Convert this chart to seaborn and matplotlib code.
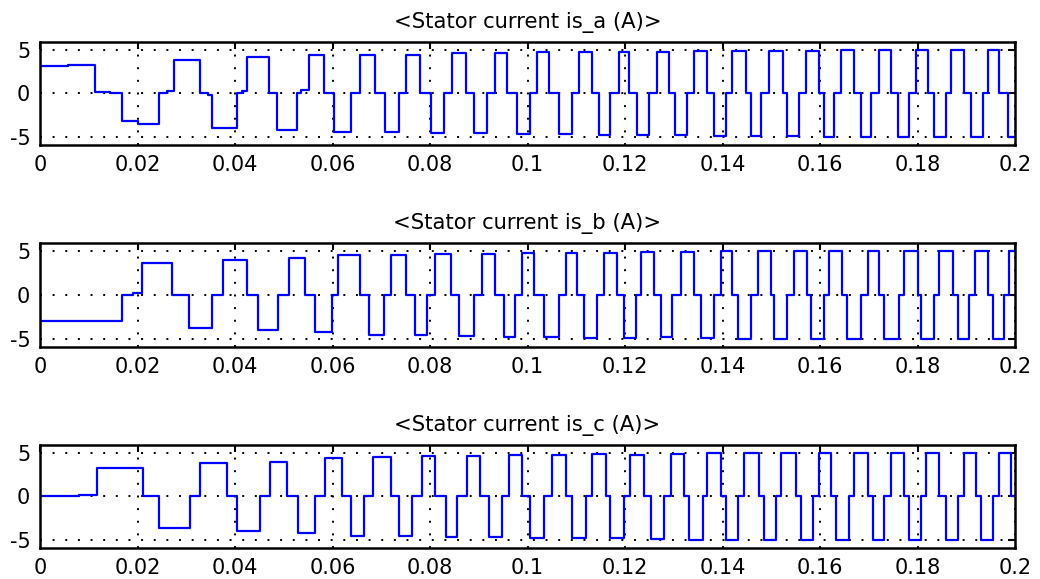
import numpy as np
import pandas as pd
import matplotlib
matplotlib.use("Agg")
import matplotlib.pyplot as plt
import seaborn as sns

# ---- data: switching instants (s) and the current level (A) after each instant ----
ia_t = [0.0, 0.0058, 0.0113, 0.0144, 0.0169, 0.0200, 0.0243, 0.0260, 0.0274, 0.0329, 0.0345, 0.0353,
        0.0404, 0.0414, 0.0424, 0.0469, 0.0486, 0.0527, 0.0535, 0.0551, 0.0582, 0.0602,
        0.0637, 0.0657, 0.0688, 0.0708, 0.0736, 0.0750, 0.0780, 0.0801, 0.0828, 0.0845,
        0.0873, 0.0890, 0.0917, 0.0934, 0.0958, 0.0979, 0.1006, 0.1020, 0.1044, 0.1064,
        0.1092, 0.1105, 0.1133, 0.1146, 0.1170, 0.1188, 0.1208, 0.1225, 0.1249, 0.1266,
        0.1290, 0.1303, 0.1328, 0.1341, 0.1369, 0.1383, 0.1407, 0.1420, 0.1448, 0.1458,
        0.1478, 0.1496, 0.1523, 0.1533, 0.1557, 0.1571, 0.1598, 0.1608, 0.1629, 0.1643,
        0.1670, 0.1684, 0.1704, 0.1721, 0.1745, 0.1759, 0.1783, 0.1797, 0.1821, 0.1834,
        0.1858, 0.1869, 0.1896, 0.1910, 0.1934, 0.1944, 0.1968, 0.1985]
ia_v = [3.1, 3.3, 0.15, 0.0, -3.2, -3.5, 0.1, 0.3, 3.8, 0.0, -0.2, -3.9,
        0.0, 0.3, 4.2, 0.0, -4.2, 0.0, 0.4, 4.4, 0.0, -4.4,
        0.0, 4.4, 0.0, -4.4, 0.0, 4.4, 0.0, -4.5, 0.0, 4.6,
        0.0, -4.5, 0.0, 4.6, 0.0, -4.6, 0.0, 4.7, 0.0, -4.6,
        0.0, 4.8, 0.0, -4.7, 0.0, 4.8, 0.0, -4.8, 0.0, 4.7,
        0.0, -4.8, 0.0, 4.9, 0.0, -4.9, 0.0, 4.9, 0.0, -4.9,
        0.0, 4.9, 0.0, -4.9, 0.0, 4.9, 0.0, -5.0, 0.0, 5.0,
        0.0, -5.0, 0.0, 5.0, 0.0, -5.0, 0.0, 5.0, 0.0, -5.0,
        0.0, 5.0, 0.0, -5.0, 0.0, 5.0, 0.0, -5.0]

ib_t = [0.0, 0.0168, 0.0191, 0.0209, 0.0270, 0.0305, 0.0353, 0.0376, 0.0424, 0.0448,
        0.0489, 0.0510, 0.0544, 0.0565, 0.0599, 0.0612, 0.0657, 0.0674, 0.0705, 0.0719,
        0.0750, 0.0770, 0.0794, 0.0811, 0.0842, 0.0859, 0.0890, 0.0907, 0.0934, 0.0951,
        0.0975, 0.0989, 0.1013, 0.1034, 0.1064, 0.1078, 0.1102, 0.1116, 0.1143, 0.1157,
        0.1184, 0.1198, 0.1222, 0.1232, 0.1259, 0.1273, 0.1297, 0.1314, 0.1341, 0.1355,
        0.1383, 0.1396, 0.1420, 0.1431, 0.1458, 0.1472, 0.1499, 0.1506, 0.1533, 0.1547,
        0.1574, 0.1581, 0.1608, 0.1619, 0.1646, 0.1656, 0.1684, 0.1698, 0.1721, 0.1732,
        0.1762, 0.1773, 0.1800, 0.1807, 0.1834, 0.1845, 0.1872, 0.1882, 0.1906, 0.1917,
        0.1944, 0.1954, 0.1978, 0.1988]
ib_v = [-3.0, 0.0, 0.2, 3.6, 0.0, -3.7, 0.0, 4.0, 0.0, -4.0,
        0.0, 4.2, 0.0, -4.2, 0.0, 4.5, 0.0, -4.5, 0.0, 4.5,
        0.0, -4.5, 0.0, 4.7, 0.0, -4.7, 0.0, 4.7, 0.0, -4.8,
        0.0, 4.8, 0.0, -4.8, 0.0, 4.8, 0.0, -4.9, 0.0, 4.8,
        0.0, -4.9, 0.0, 4.9, 0.0, -4.8, 0.0, 4.9, 0.0, -4.9,
        0.0, 5.0, 0.0, -5.0, 0.0, 5.0, 0.0, -5.0, 0.0, 5.0,
        0.0, -5.0, 0.0, 5.0, 0.0, -5.0, 0.0, 5.0, 0.0, -5.0,
        0.0, 5.0, 0.0, -5.0, 0.0, 5.0, 0.0, -5.0, 0.0, 5.0,
        0.0, -5.0, 0.0, 5.0]

ic_t = [0.0, 0.0079, 0.0116, 0.0212, 0.0243, 0.0308, 0.0329, 0.0383, 0.0404, 0.0452,
        0.0472, 0.0507, 0.0530, 0.0565, 0.0585, 0.0619, 0.0637, 0.0664, 0.0684, 0.0719,
        0.0736, 0.0763, 0.0784, 0.0811, 0.0832, 0.0856, 0.0876, 0.0903, 0.0921, 0.0948,
        0.0962, 0.0989, 0.1006, 0.1034, 0.1051, 0.1078, 0.1092, 0.1119, 0.1133, 0.1160,
        0.1170, 0.1198, 0.1211, 0.1239, 0.1253, 0.1280, 0.1294, 0.1321, 0.1331, 0.1359,
        0.1369, 0.1396, 0.1407, 0.1431, 0.1444, 0.1475, 0.1485, 0.1509, 0.1520, 0.1550,
        0.1561, 0.1585, 0.1598, 0.1622, 0.1632, 0.1660, 0.1670, 0.1698, 0.1708, 0.1732,
        0.1745, 0.1773, 0.1783, 0.1807, 0.1817, 0.1845, 0.1858, 0.1882, 0.1896, 0.1920,
        0.1930, 0.1954, 0.1968, 0.1992]
ic_v = [0.0, 0.15, 3.3, 0.0, -3.6, 0.0, 3.8, 0.0, -4.0, 0.0,
        4.0, 0.0, -4.2, 0.0, 4.4, 0.0, -4.5, 0.0, 4.5, 0.0,
        -4.5, 0.0, 4.6, 0.0, -4.6, 0.0, 4.6, 0.0, -4.6, 0.0,
        4.7, 0.0, -4.7, 0.0, 4.8, 0.0, -4.8, 0.0, 4.9, 0.0,
        -4.8, 0.0, 4.8, 0.0, -4.9, 0.0, 4.9, 0.0, -5.0, 0.0,
        5.0, 0.0, -5.0, 0.0, 5.0, 0.0, -5.0, 0.0, 5.0, 0.0,
        -5.0, 0.0, 5.0, 0.0, -5.0, 0.0, 5.0, 0.0, -5.0, 0.0,
        5.0, 0.0, -5.0, 0.0, 5.0, 0.0, -5.0, 0.0, 5.0, 0.0,
        -5.0, 0.0, 5.0, 0.0]

titles = ["<Stator current is_a (A)>", "<Stator current is_b (A)>", "<Stator current is_c (A)>"]
x_ticks = [0, 0.02, 0.04, 0.06, 0.08, 0.1, 0.12, 0.14, 0.16, 0.18, 0.2]
x_tick_labels = ["0", "0.02", "0.04", "0.06", "0.08", "0.1", "0.12", "0.14", "0.16", "0.18", "0.2"]
y_ticks = [-5, 0, 5]
y_tick_labels = ["-5", "0", "5"]
t_end = 0.2

# ---- drawing ----
sns.set_style("white")
plt.rcParams["font.family"] = ["DejaVu Sans"]

fig = plt.figure(figsize=(10.4, 5.79), dpi=100)
fig.patch.set_facecolor("white")
boxes = [[0.0385, 0.7496, 0.9375, 0.178],
         [0.0385, 0.4007, 0.9375, 0.1796],
         [0.0385, 0.0535, 0.9375, 0.178]]

series = [(ia_t, ia_v), (ib_t, ib_v), (ic_t, ic_v)]
for box, (tt, vv), title in zip(boxes, series, titles):
    ax = fig.add_axes(box)
    df = pd.DataFrame({"t": list(tt) + [t_end], "i": list(vv) + [vv[-1]]})
    sns.lineplot(data=df, x="t", y="i", ax=ax, estimator=None, sort=False,
                 color=(0, 0, 1), linewidth=1.6, drawstyle="steps-post")
    ax.set_xlim(0, 0.2)
    ax.set_ylim(-5.9, 5.9)
    ax.set_xticks(x_ticks)
    ax.set_xticklabels(x_tick_labels)
    ax.set_yticks(y_ticks)
    ax.set_yticklabels(y_tick_labels)
    ax.set_xlabel("")
    ax.set_ylabel("")
    ax.grid(True, color="black", linestyle=(0, (1, 5.5)), linewidth=1.4)
    ax.tick_params(axis="both", direction="in", length=5, width=1.5,
                   top=True, right=True, labelsize=15, colors="black")
    ax.tick_params(axis="x", pad=7)
    ax.tick_params(axis="y", pad=7)
    for s in ax.spines.values():
        s.set_color("black")
        s.set_linewidth(1.8)
    ax.set_title(title, fontsize=15.2, pad=10, color="black")

fig.savefig("out.png", dpi=100, facecolor="white")
